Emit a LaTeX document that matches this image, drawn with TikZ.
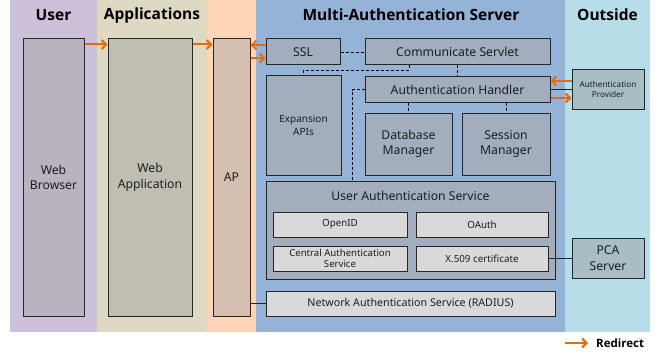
\documentclass[tikz,border=0pt]{standalone}
\usepackage{fontspec}
\setmainfont{Noto Sans}
\newfontfamily\ttlfont{Open Sans}
\usetikzlibrary{arrows.meta,calc}
\definecolor{bandUser}{RGB}{204,192,218}
\definecolor{bandApp}{RGB}{221,217,195}
\definecolor{bandAP}{RGB}{252,213,181}
\definecolor{bandSrv}{RGB}{149,179,215}
\definecolor{bandOut}{RGB}{183,222,232}
\definecolor{boxBrw}{RGB}{184,179,191}
\definecolor{boxWA}{RGB}{192,190,178}
\definecolor{boxAP}{RGB}{212,191,176}
\definecolor{boxSrv}{RGB}{162,173,189}
\definecolor{boxIn}{RGB}{217,217,217}
\definecolor{boxOut}{RGB}{166,190,196}
\definecolor{orng}{RGB}{228,108,10}
\definecolor{edge}{RGB}{38,38,38}
\definecolor{txt}{RGB}{30,30,30}
\tikzset{
  blk/.style={draw=edge, line width=1pt, inner sep=0pt, align=center, text=txt, font=\fontsize{12.2}{15.5}\selectfont},
  srv/.style={blk, fill=boxSrv},
  inbox/.style={blk, fill=boxIn, font=\fontsize{9.8}{11}\selectfont},
  outbox/.style={blk, fill=boxOut},
  ttl/.style={font=\ttlfont\fontsize{15.5}{18}\selectfont\bfseries, text=black, inner sep=0pt},
  dsh/.style={draw=black, line width=0.9pt, dash pattern=on 3pt off 2pt},
  sol/.style={draw=edge, line width=1.2pt},
  redir/.style={draw=orng, line width=2pt, -{Straight Barb[length=4.5pt,width=9pt,line width=2pt]}},
}
\begin{document}
\begin{tikzpicture}[x=1pt,y=-1pt]
\useasboundingbox (0,0) rectangle (656,353);
% bands
\fill[bandUser] (10,0) rectangle (97,332);
\fill[bandApp] (97,0) rectangle (207,332);
\fill[bandAP] (207,0) rectangle (256,332);
\fill[bandSrv] (256,0) rectangle (565,332);
\fill[bandOut] (565,0) rectangle (650,332);
\node[ttl] (tuser) at (53.5,15) {User};
\node[ttl] (tapp) at (152,15) {Applications};
\node[ttl] (tsrv) at (411,15) {Multi-Authentication Server};
\node[ttl] (tout) at (607.5,15) {Outside};
% left column boxes
\node[blk, fill=boxBrw, minimum width=61pt, minimum height=277pt] (wb) at (53.5,177.5) {Web\\Browser};
\node[blk, fill=boxWA, minimum width=84pt, minimum height=277pt] (wa) at (150,177.5) {Web\\Application};
\node[blk, fill=boxAP, minimum width=37pt, minimum height=277pt] (ap) at (231.5,177.5) {AP};
% server boxes
\node[srv, minimum width=74pt, minimum height=26pt] (ssl) at (303,52) {SSL};
\node[srv, minimum width=185pt, minimum height=26pt] (comm) at (457.5,52) {Communicate Servlet};
\node[srv, minimum width=185pt, minimum height=25pt] (hdl) at (457.5,89.5) {Authentication Handler};
\node[srv, minimum width=75pt, minimum height=99pt, font=\fontsize{10}{13.5}\selectfont] (exp) at (303.5,125.5) {Expansion\\APIs};
\node[srv, minimum width=87pt, minimum height=62pt] (db) at (408.5,144) {Database\\Manager};
\node[srv, minimum width=88pt, minimum height=62pt] (ses) at (506,144) {Session\\Manager};
\node[srv, minimum width=289pt, minimum height=98pt] (uas) at (410.5,230) {};
\node[blk, draw=none, fill=none, inner sep=0pt] (uast) at (410.5,196) {User Authentication Service};
\node[inbox, minimum width=134pt, minimum height=25pt] (oid) at (340,224.5) {OpenID};
\node[inbox, minimum width=132pt, minimum height=25pt] (oau) at (482,224.5) {OAuth};
\node[inbox, minimum width=134pt, minimum height=25pt, font=\fontsize{9.6}{10.5}\selectfont] (cas) at (340,258.5) {Central Authentication\\Service};
\node[inbox, minimum width=132pt, minimum height=25pt] (x509) at (482,258.5) {X.509 certificate};
\node[inbox, minimum width=289pt, minimum height=25pt, font=\fontsize{10.7}{12}\selectfont] (net) at (410.5,303.5) {Network Authentication Service (RADIUS)};
% outside
\node[outbox, minimum width=72pt, minimum height=39pt, font=\fontsize{8.2}{10}\selectfont] (prov) at (608,89.5) {Authentication\\Provider};
\node[outbox, minimum width=72pt, minimum height=40pt] (pca) at (608,258) {PCA\\Server};
% helper coordinates
\coordinate (k1) at (409,70);
\coordinate (k2) at (303.5,70);
\coordinate (k3) at (352,0);
% dashed connectors
\draw[dsh] (ssl) -- (comm);
\draw[dsh] (comm.south -| k1) -- (k1) -- (k2) -- (exp.north);
\draw[dsh] (comm) -- (hdl);
\draw[dsh] (hdl.west) -| (uas.north -| k3);
\draw[dsh] (db.north |- hdl.south) -- (db.north);
\draw[dsh] (ses.north |- hdl.south) -- (ses.north);
% solid connectors
\draw[sol] (hdl.east) -- (prov.west);
\draw[sol] (x509.east) -- (pca.west |- x509.east);
\draw[sol] (ap.east |- net.west) -- (net.west);
% redirect arrows
\draw[redir] ([yshift=-6pt]wb.north east) -- ([yshift=-6pt]wb.north east -| wa.west);
\draw[redir] ([yshift=-6pt]wa.north east) -- ([yshift=-6pt]wa.north east -| ap.west);
\draw[redir] ([yshift=7pt]ssl.west) -- ([yshift=7pt]ssl.west -| ap.east);
\draw[redir] ([yshift=-6pt]ssl.west -| ap.east) -- ([yshift=-6pt]ssl.west);
\draw[redir] ([yshift=8.5pt]prov.west) -- ([yshift=8.5pt]prov.west -| hdl.east);
\draw[redir] ([yshift=-8.5pt]hdl.east) -- ([yshift=-8.5pt]hdl.east -| prov.west);
% legend
\coordinate (la) at (565,343);
\coordinate (lb) at (588,343);
\draw[redir] (la) -- (lb);
\node[anchor=west, font=\ttlfont\fontsize{11.5}{13}\selectfont\bfseries, inner sep=0pt] (leg) at (596,343) {Redirect};
\end{tikzpicture}
\end{document}
